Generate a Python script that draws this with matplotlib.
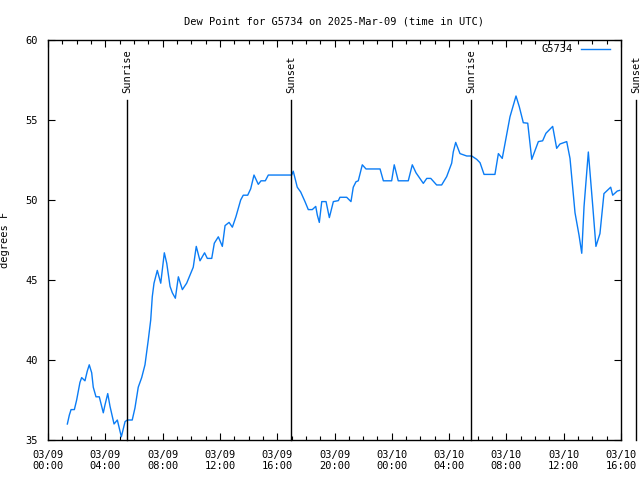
import matplotlib
matplotlib.use("Agg")
import matplotlib.pyplot as plt
from matplotlib.ticker import MultipleLocator

# hours since 2025-03-09 00:00 UTC
hours = [1.35, 1.49, 1.61, 1.84, 2.00, 2.23, 2.35, 2.58, 2.74, 2.88, 3.05, 3.16, 3.35, 3.58,
         3.86, 3.98, 4.17, 4.33, 4.61, 4.84, 5.12, 5.38, 5.54, 5.88, 6.07, 6.30, 6.54, 6.77,
         7.00, 7.17, 7.28, 7.40, 7.63, 7.87, 8.12, 8.29, 8.52, 8.68, 8.89, 9.10, 9.38, 9.68,
         10.14, 10.35, 10.61, 10.93, 11.12, 11.43, 11.61, 11.89, 12.17, 12.36, 12.64, 12.87,
         13.12, 13.45, 13.63, 13.94, 14.15, 14.38, 14.68, 14.87, 15.17, 15.38, 17.01, 17.12,
         17.40, 17.64, 17.94, 18.17, 18.45, 18.69, 18.80, 18.94, 19.11, 19.41, 19.64, 19.92,
         20.27, 20.38, 20.85, 21.15, 21.31, 21.50, 21.66, 21.94, 22.20, 23.18, 23.41, 23.99,
         24.17, 24.45, 25.15, 25.43, 25.69, 26.20, 26.44, 26.72, 27.13, 27.48, 27.83, 28.18,
         28.29, 28.46, 28.76, 29.23, 29.58, 29.93, 30.16, 30.44, 31.20, 31.44, 31.71, 32.25,
         32.67, 32.90, 33.18, 33.49, 33.77, 34.23, 34.53, 34.76, 35.23, 35.51, 35.74, 36.21,
         36.44, 36.79, 37.07, 37.26, 37.42, 37.72, 38.03, 38.25, 38.53, 38.81, 39.28, 39.42,
         39.74, 39.90]
dewpoint = [36.0, 36.56, 36.9, 36.9, 37.5, 38.6, 38.9, 38.7, 39.3, 39.7, 39.2, 38.3, 37.7, 37.7,
            36.7, 37.2, 37.9, 37.1, 36.0, 36.25, 35.2, 36.15, 36.25, 36.25, 37.0, 38.3, 38.9, 39.7,
            41.25, 42.5, 43.96, 44.8, 45.6, 44.8, 46.7, 46.04, 44.6, 44.2, 43.86, 45.2, 44.4, 44.8,
            45.8, 47.1, 46.2, 46.7, 46.35, 46.35, 47.3, 47.7, 47.1, 48.4, 48.6, 48.3,
            48.96, 50.0, 50.3, 50.3, 50.7, 51.56, 50.98, 51.2, 51.2, 51.56, 51.56, 51.8,
            50.8, 50.5, 49.9, 49.4, 49.4, 49.6, 49.06, 48.6, 49.9, 49.9, 48.9, 49.9,
            49.96, 50.17, 50.17, 49.9, 50.8, 51.14, 51.2, 52.2, 51.94, 51.94, 51.2, 51.2,
            52.2, 51.2, 51.2, 52.2, 51.7, 51.04, 51.35, 51.35, 50.94, 50.94, 51.46, 52.3,
            53.0, 53.6, 52.9, 52.75, 52.75, 52.54, 52.33, 51.6, 51.6, 52.9, 52.6, 55.2,
            56.5, 55.83, 54.83, 54.8, 52.54, 53.65, 53.7, 54.17, 54.6, 53.23, 53.5, 53.65,
            52.6, 49.2, 47.8, 46.67, 49.6, 53.0, 49.6, 47.1, 47.9, 50.4, 50.8, 50.3,
            50.56, 50.6]

sun_hours = [5.52, 16.97, 29.53, 41.05]
sun_labels = ["Sunrise", "Sunset", "Sunrise", "Sunset"]

tick_hours = [0, 4, 8, 12, 16, 20, 24, 28, 32, 36, 40]
tick_labels = ["03/09\n00:00", "03/09\n04:00", "03/09\n08:00", "03/09\n12:00", "03/09\n16:00",
               "03/09\n20:00", "03/10\n00:00", "03/10\n04:00", "03/10\n08:00", "03/10\n12:00",
               "03/10\n16:00"]

FONT = "DejaVu Sans Mono"
FS = 7.5

fig = plt.figure(figsize=(6.4, 4.8), dpi=100)
ax = fig.add_axes([48/640, 1-440/480, (621-48)/640, 400/480])

ax.plot(hours, dewpoint, color="#0a7cf5", lw=1.0, label="G5734")

for h, lab in zip(sun_hours, sun_labels):
    ax.plot([h, h], [35, 56.25], color="black", lw=1.0, clip_on=False)
    ax.text(h, 56.7, lab, rotation=90, ha="center", va="bottom",
            fontsize=FS, family=FONT, clip_on=False)

ax.set_xlim(0, 40)
ax.set_ylim(35, 60)
ax.set_xticks(tick_hours)
ax.set_xticklabels(tick_labels, fontsize=FS, family=FONT)
ax.xaxis.set_minor_locator(MultipleLocator(1))
ax.set_yticks([35, 40, 45, 50, 55, 60])
ax.set_yticklabels(["35", "40", "45", "50", "55", "60"], fontsize=FS, family=FONT)
ax.tick_params(which="both", direction="in", top=True, right=True, width=0.8)
ax.tick_params(which="major", length=5, pad=7)
ax.tick_params(which="minor", length=3)
for s in ax.spines.values():
    s.set_linewidth(1.0)

ax.set_ylabel("degrees F", fontsize=FS, family=FONT)
ax.yaxis.set_label_coords((10 - 48) / 573, 0.5)
ax.set_title("Dew Point for G5734 on 2025-Mar-09 (time in UTC)", fontsize=FS, family=FONT, pad=11)

ax.legend(loc="upper right", frameon=False, markerfirst=False, handlelength=2.8,
          prop={"family": FONT, "size": FS}, borderaxespad=0.1, borderpad=0.3,
          bbox_to_anchor=(0.988, 1.0))

fig.savefig("out.png", dpi=100)
